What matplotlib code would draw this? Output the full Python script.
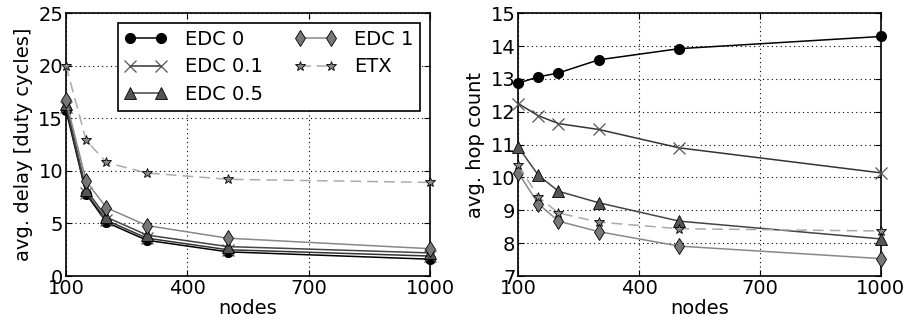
import matplotlib
matplotlib.use("Agg")
import matplotlib.pyplot as plt

nodes = [100, 150, 200, 300, 500, 1000]

# average delay in duty cycles
delay_edc0 = [15.8, 7.8, 5.1, 3.4, 2.3, 1.6]
delay_edc01 = [16.1, 7.9, 5.3, 3.6, 2.5, 1.9]
delay_edc05 = [16.4, 8.2, 5.6, 3.9, 2.8, 2.2]
delay_edc1 = [16.7, 9.0, 6.5, 4.8, 3.6, 2.6]
delay_etx = [20.0, 12.9, 10.8, 9.8, 9.2, 8.9]

# average hop count
hops_edc0 = [12.87, 13.06, 13.18, 13.58, 13.92, 14.29]
hops_edc01 = [12.25, 11.88, 11.64, 11.46, 10.90, 10.14]
hops_edc05 = [10.93, 10.07, 9.58, 9.23, 8.67, 8.13]
hops_edc1 = [10.15, 9.20, 8.67, 8.35, 7.91, 7.53]
hops_etx = [10.38, 9.41, 8.92, 8.64, 8.44, 8.37]

labels = ["EDC 0", "EDC 0.1", "EDC 0.5", "EDC 1", "ETX"]

styles = [
    dict(color="black", marker="o", markersize=7, markerfacecolor="black",
         markeredgecolor="black", linestyle="-", linewidth=1.1),
    dict(color="#333333", marker="x", markersize=8, markeredgecolor="#555555",
         markeredgewidth=0.9, linestyle="-", linewidth=1.1),
    dict(color="#444444", marker="^", markersize=8, markerfacecolor="#555555",
         markeredgecolor="black", markeredgewidth=0.6, linestyle="-", linewidth=1.1),
    dict(color="#888888", marker="d", markersize=8, markerfacecolor="#777777",
         markeredgecolor="black", markeredgewidth=0.6, linestyle="-", linewidth=1.1),
    dict(color="#aaaaaa", marker="*", markersize=7.5, markerfacecolor="#888888",
         markeredgecolor="black", markeredgewidth=0.6, linestyle=(0, (7, 4)),
         linewidth=1.1),
]

plt.rcParams["font.family"] = "DejaVu Sans"
plt.rcParams["font.size"] = 14

fig = plt.figure(figsize=(9.09, 3.29), dpi=100)
ax1 = fig.add_axes([0.0726, 0.161, 0.4004, 0.799])
ax2 = fig.add_axes([0.570, 0.161, 0.399, 0.799])

for ys, lab, st in zip([delay_edc0, delay_edc01, delay_edc05, delay_edc1, delay_etx],
                       labels, styles):
    ax1.plot(nodes, ys, label=lab, clip_on=False, zorder=3, **st)

for ys, lab, st in zip([hops_edc0, hops_edc01, hops_edc05, hops_edc1, hops_etx],
                       labels, styles):
    ax2.plot(nodes, ys, label=lab, clip_on=False, zorder=3, **st)

ax1.set_ylim(0, 25)
ax1.set_yticks([0, 5, 10, 15, 20, 25])
ax1.set_ylabel("avg. delay [duty cycles]", labelpad=4)

ax2.set_ylim(7, 15)
ax2.set_yticks(range(7, 16))
ax2.set_ylabel("avg. hop count", labelpad=4)

for ax in (ax1, ax2):
    ax.set_xlim(100, 1000)
    ax.set_xticks([100, 400, 700, 1000])
    ax.set_xlabel("nodes", labelpad=1)
    ax.grid(True, color="black", linestyle=(0, (1, 3)), linewidth=0.8)
    ax.set_axisbelow(True)
    ax.tick_params(direction="in", top=True, right=True, length=4, labelsize=14, pad=2)
    for sp in ax.spines.values():
        sp.set_linewidth(1.2)

leg = ax1.legend(loc="upper right", ncol=2, numpoints=2, fontsize=14,
                 fancybox=False, framealpha=1, edgecolor="black",
                 handlelength=2.2, handletextpad=0.9, columnspacing=1.6,
                 labelspacing=0.45, borderaxespad=0.5, borderpad=0.35)
leg.get_frame().set_linewidth(1.2)

fig.savefig("out.png", dpi=100)
